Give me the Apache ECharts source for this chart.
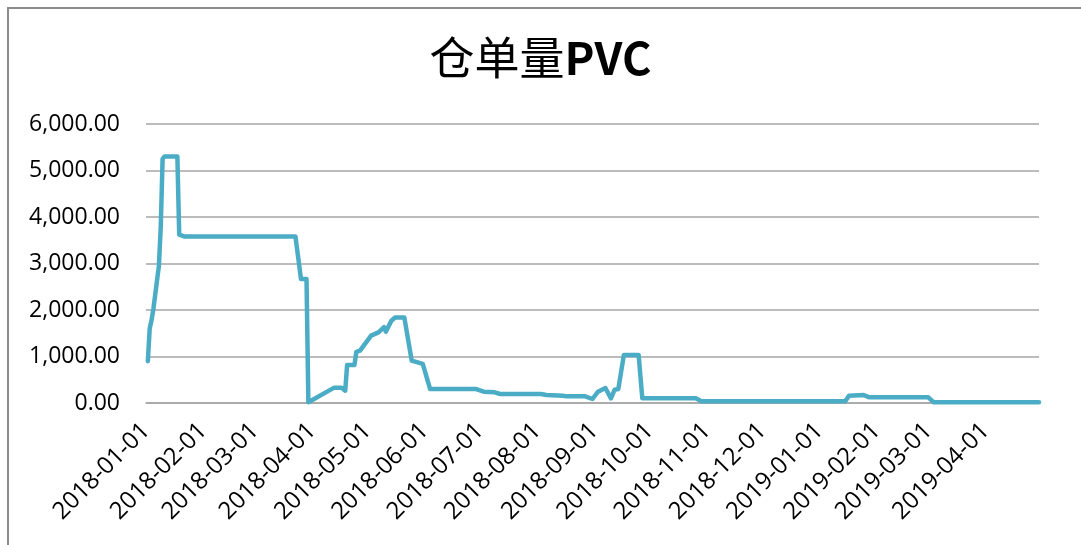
<html>
<head>
    <meta charset="utf-8">
    <title>仓单量PVC</title>
    <style>
    html, body {
        padding: 0;
        margin: 0;
        height: 100%;
        width: 100%;
        background: #fff;
        overflow: hidden;
    }
    #frame {
        position: absolute;
        left: 7px;
        top: 7px;
        width: 1200px;
        height: 700px;
        border: 2px solid #8c8c8c;
    }
    #chart {
        position: absolute;
        left: 0;
        top: 0;
        width: 1081px;
        height: 545px;
    }
    </style>
    <script src="https://cdn.jsdelivr.net/npm/echarts@6/dist/echarts.min.js"></script>
</head>
<body>
    <div id="frame"></div>
    <div id="chart"></div>
    <script>
    // 日期和仓单量
    var dates = [
        '2018-01-02', '2018-01-03', '2018-01-04', '2018-01-05', '2018-01-08', '2018-01-09',
        '2018-01-10', '2018-01-11', '2018-01-18', '2018-01-19', '2018-01-22', '2018-03-23',
        '2018-03-26', '2018-03-29', '2018-03-30', '2018-04-13', '2018-04-17', '2018-04-19',
        '2018-04-20', '2018-04-24', '2018-04-25', '2018-04-27', '2018-05-03', '2018-05-07',
        '2018-05-10', '2018-05-11', '2018-05-14', '2018-05-16', '2018-05-21', '2018-05-23',
        '2018-05-25', '2018-05-31', '2018-06-04', '2018-06-29', '2018-07-03', '2018-07-09',
        '2018-07-12', '2018-08-03', '2018-08-06', '2018-08-15', '2018-08-17', '2018-08-27',
        '2018-08-31', '2018-09-03', '2018-09-04', '2018-09-07', '2018-09-10', '2018-09-12',
        '2018-09-14', '2018-09-17', '2018-09-25', '2018-09-27', '2018-10-26', '2018-10-29',
        '2019-01-15', '2019-01-17', '2019-01-25', '2019-01-28', '2019-03-01', '2019-03-04',
        '2019-04-30'
    ];
    var values = [
        900, 1600, 1780, 2020, 2950, 3800,
        5250, 5300, 5300, 3620, 3580, 3580,
        2667, 2667, 15, 330, 330, 265,
        817, 817, 1100, 1125, 1450, 1520,
        1630, 1535, 1770, 1840, 1840, 1380,
        910, 840, 300, 300, 243, 229,
        194, 194, 172, 157, 143, 143,
        86, 243, 229, 322, 100, 286,
        301, 1032, 1032, 100, 100, 36,
        36, 157, 172, 122, 122, 15,
        15
    ];
    var yTicks = [0, 1000, 2000, 3000, 4000, 5000, 6000];

    var seriesData = [];
    for (var i = 0; i < dates.length; i++) {
        seriesData.push([dates[i], values[i]]);
    }

    var myChart = echarts.init(document.getElementById('chart'));
    var DAY = 24 * 3600 * 1000;
    var option = {
        animation: false,
        backgroundColor: 'transparent',
        title: {
            text: '{a|仓单量}{b|PVC}',
            left: 'center',
            top: 30,
            textStyle: {
                rich: {
                    a: {
                        fontFamily: 'Noto Sans CJK SC',
                        fontSize: 45,
                        fontWeight: 'normal',
                        color: '#000'
                    },
                    b: {
                        fontFamily: 'Noto Sans CJK SC',
                        fontSize: 45,
                        fontWeight: 'bold',
                        color: '#000'
                    }
                }
            }
        },
        grid: {
            left: 146,
            right: 42,
            top: 124,
            bottom: 142
        },
        xAxis: {
            type: 'time',
            min: '2018-01-01',
            max: '2019-04-30',
            minInterval: 28 * DAY,
            maxInterval: 31 * DAY,
            splitNumber: 16,
            axisLine: {
                show: true,
                lineStyle: { color: '#a6a6a6', width: 1.5 }
            },
            axisTick: { show: false },
            splitLine: { show: false },
            axisLabel: {
                rotate: 45,
                margin: 24,
                color: '#000',
                fontFamily: 'Open Sans',
                fontSize: 24,
                formatter: '{yyyy}-{MM}-{dd}',
                hideOverlap: false
            }
        },
        yAxis: {
            type: 'value',
            min: yTicks[0],
            max: yTicks[yTicks.length - 1],
            interval: 1000,
            axisLine: { show: false },
            axisTick: { show: false },
            splitLine: {
                lineStyle: { color: '#a6a6a6', width: 1.5 }
            },
            axisLabel: {
                margin: 26,
                color: '#000',
                fontFamily: 'Open Sans',
                fontSize: 23,
                formatter: function (v) {
                    return v.toLocaleString('en-US', { minimumFractionDigits: 2, maximumFractionDigits: 2 });
                }
            }
        },
        series: [
            {
                name: '仓单量PVC',
                type: 'line',
                data: seriesData,
                showSymbol: false,
                symbol: 'none',
                lineStyle: {
                    color: '#4bacc6',
                    width: 4.5,
                    cap: 'round',
                    join: 'round'
                }
            }
        ]
    };
    myChart.setOption(option);
    </script>
</body>
</html>
